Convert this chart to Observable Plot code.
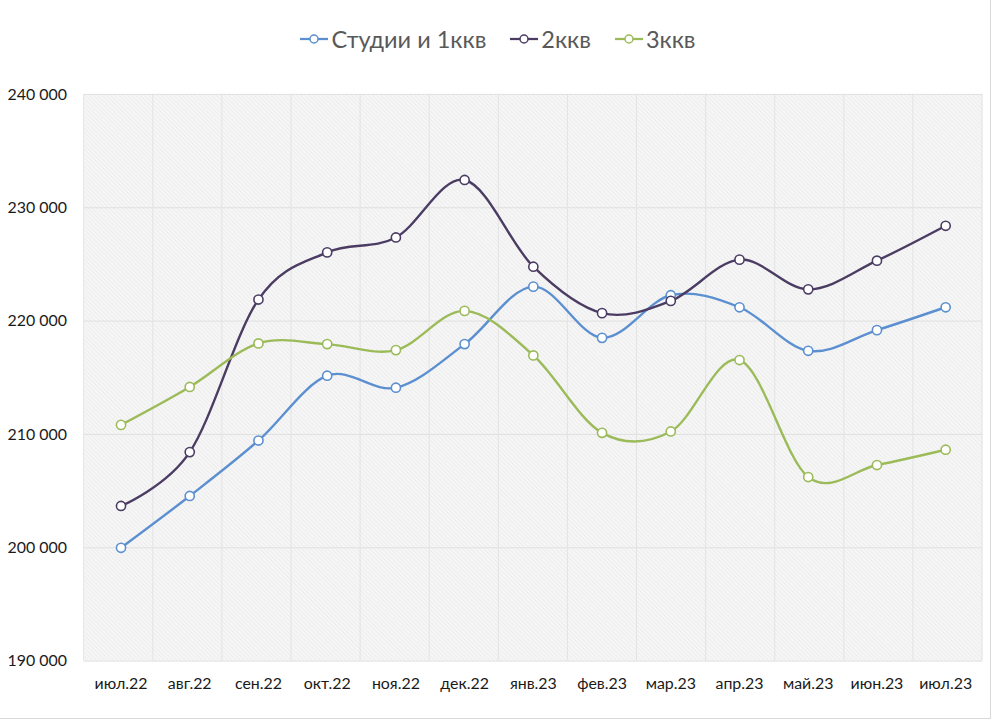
<!DOCTYPE html>
<html>
<head>
<meta charset="utf-8">
<script src="https://cdn.jsdelivr.net/npm/d3@7"></script>
<script src="https://cdn.jsdelivr.net/npm/@observablehq/plot@0.6"></script>
<style>
  html, body { margin: 0; padding: 0; background: #fff; }
  #wrap { position: relative; width: 990px; height: 718px; border-right: 1px solid #d9d9d9; border-bottom: 1px solid #d9d9d9; font-family: Lato, "Noto Sans", sans-serif; overflow: hidden; }
  #legend { height: 70px; display: flex; justify-content: center; align-items: center; gap: 24px; font-size: 23.5px; color: #595959; padding-left: 6px; box-sizing: border-box; padding-top: 8px; }
  .item { display: flex; align-items: center; gap: 3px; }
  svg.key { display: block; }
</style>
</head>
<body>
<div id="wrap">
  <div id="legend"></div>
  <div id="chart"></div>
</div>
<script>
const months = ["июл.22","авг.22","сен.22","окт.22","ноя.22","дек.22","янв.23","фев.23","мар.23","апр.23","май.23","июн.23","июл.23"];
const seriesNames = ["Студии и 1ккв", "2ккв", "3ккв"];
const seriesColors = ["#5b8fd0", "#4b3c63", "#9bbb59"];
const studio1 = [200000, 204570, 209460, 215180, 214120, 217970, 223040, 218520, 222280, 221220, 217380, 219200, 221220];
const room2   = [203690, 208440, 221900, 226060, 227380, 232450, 224800, 220700, 221780, 225420, 222800, 225330, 228410];
const room3   = [210840, 214190, 218030, 217970, 217440, 220900, 216970, 210140, 210260, 216560, 206240, 207300, 208650];
const yTicks = [190000, 200000, 210000, 220000, 230000, 240000];

const allSeries = [studio1, room2, room3];
const data = [];
allSeries.forEach((vals, si) => vals.forEach((v, i) => data.push({month: months[i], value: v, series: seriesNames[si]})));

const fmt = d3.formatLocale({thousands: " ", grouping: [3], decimal: ","}).format(",");

// legend
const legend = document.getElementById("legend");
seriesNames.forEach((name, i) => {
  const item = document.createElement("div");
  item.className = "item";
  item.innerHTML = `<svg class="key" width="28" height="12"><line x1="0" y1="6" x2="28" y2="6" stroke="${seriesColors[i]}" stroke-width="2.25"/><circle cx="14" cy="6" r="4" fill="#fff" stroke="${seriesColors[i]}" stroke-width="1.5"/></svg><span>${name}</span>`;
  legend.appendChild(item);
});

const W = 994, H = 650;
const mL = 84, mR = 8, mT = 24, mB = 57;

// vertical grid lines between categories (band boundaries)
const bandGrid = Plot.frame({
  render: (index, scales, values, dims) => {
    const g = d3.create("svg:g");
    const x0 = dims.marginLeft, y0 = dims.marginTop, y1 = dims.height - dims.marginBottom;
    const stp = (dims.width - dims.marginLeft - dims.marginRight) / months.length;
    for (let i = 0; i <= months.length; i++) {
      const xx = x0 + i * stp;
      g.append("line").attr("x1", xx).attr("x2", xx).attr("y1", y0).attr("y2", y1).attr("stroke", "#e3e3e3");
    }
    return g.node();
  }
});

const chart = Plot.plot({
  width: W,
  height: H,
  marginLeft: mL,
  marginRight: mR,
  marginTop: mT,
  marginBottom: mB,
  style: {fontFamily: "Lato, 'Noto Sans', sans-serif", background: "transparent", overflow: "visible"},
  x: {type: "point", domain: months, padding: 0.5, label: null},
  y: {domain: [190000, 240000], label: null},
  color: {domain: seriesNames, range: seriesColors},
  marks: [
    Plot.frame({fill: "url(#hatch)", stroke: null}),
    Plot.gridY(yTicks, {stroke: "#e0e0e0", strokeOpacity: 1, strokeWidth: 1}),
    bandGrid,
    Plot.axisY(yTicks, {tickSize: 0, tickPadding: 3, textAnchor: "start", dx: -74, tickFormat: fmt, fontSize: 16, fill: "#1a1a1a"}),
    Plot.axisX(months, {tickSize: 0, tickPadding: 17, fontSize: 16, fill: "#1a1a1a"}),
    Plot.line(data, {x: "month", y: "value", z: "series", stroke: "series", strokeWidth: 2.4, curve: "cardinal"}),
    Plot.dot(data, {x: "month", y: "value", stroke: "series", fill: "#fff", r: 4.6, strokeWidth: 1.6})
  ]
});

// hatch pattern definition
const defs = d3.select(chart).insert("defs", ":first-child");
const pat = defs.append("pattern").attr("id", "hatch").attr("patternUnits", "userSpaceOnUse")
  .attr("width", 3).attr("height", 3).attr("patternTransform", "rotate(-45)");
pat.append("rect").attr("width", 3).attr("height", 3).attr("fill", "#f6f6f6");
pat.append("line").attr("x1", 0).attr("y1", 0).attr("x2", 0).attr("y2", 3).attr("stroke", "#e4e4e4").attr("stroke-width", 1);

document.getElementById("chart").appendChild(chart);
</script>
</body>
</html>
